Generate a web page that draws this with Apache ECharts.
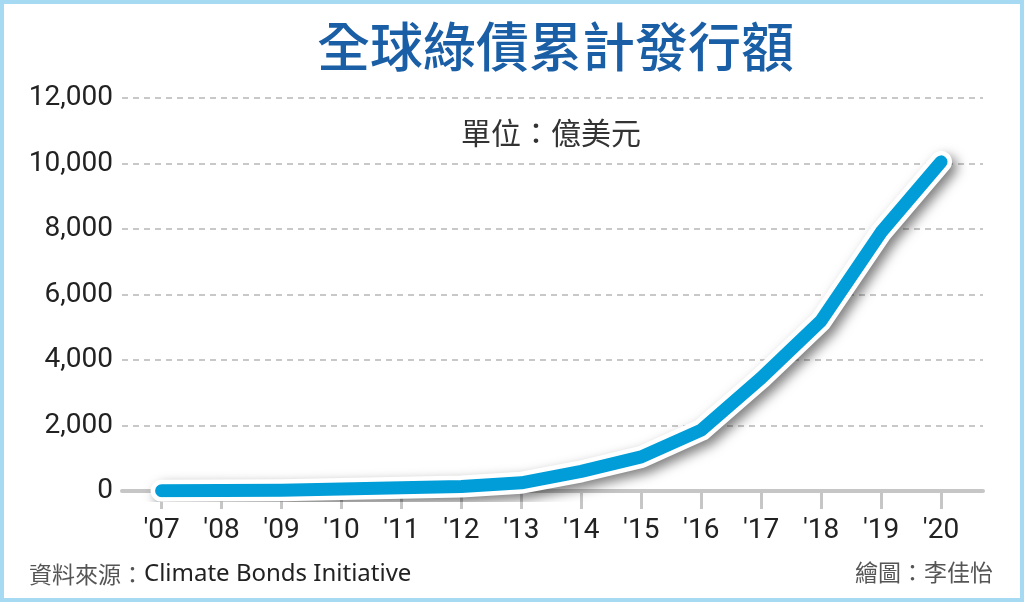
<!DOCTYPE html>
<html lang="zh-Hant">
<head>
    <meta charset="UTF-8">
    <title>全球綠債累計發行額</title>
    <script src="https://cdn.jsdelivr.net/npm/echarts@6/dist/echarts.min.js"></script>
    <style>
        html, body { margin: 0; padding: 0; background: #fff; }
        #frame { position: absolute; left: 0; top: 0; width: 1024px; height: 602px;
                 box-sizing: border-box; border: 4px solid #a6daf3; }
        #main { position: absolute; left: 0; top: 0; width: 1024px; height: 602px; }
    </style>
</head>
<body>
<div id="frame"></div>
<div id="main"></div>
<script>
    // 年份標籤與累計發行額（億美元）
    var years = ["'07", "'08", "'09", "'10", "'11", "'12", "'13", "'14", "'15", "'16", "'17", "'18", "'19", "'20"];
    var totals = [8, 12, 20, 60, 100, 140, 250, 600, 1040, 1860, 3450, 5200, 7900, 10050];

    var idx = years.map(function (y, i) { return i; });
    var points = totals.map(function (v, i) { return [i, v]; });

    var myChart = echarts.init(document.getElementById('main'));
    var option = {
        backgroundColor: 'transparent',
        animation: false,
        title: [
            {
                text: '全球綠債累計發行額',
                left: 312, top: 15,
                textStyle: { color: '#1a5fa6', fontSize: 53, fontWeight: 500,
                    fontFamily: 'Noto Sans CJK TC' }
            },
            {
                text: '單位：億美元',
                left: 456, top: 113,
                textStyle: { color: '#333', fontSize: 30, fontWeight: 'normal',
                    fontFamily: 'Noto Sans CJK TC' }
            },
            {
                text: '{c|資料來源：}{l|Climate Bonds Initiative}',
                left: 24, top: 557,
                textStyle: {
                    fontWeight: 'normal',
                    rich: {
                        c: { color: '#555', fontSize: 23, fontWeight: 'normal', fontFamily: 'Noto Sans CJK TC' },
                        l: { color: '#222', fontSize: 24, fontWeight: 'normal', fontFamily: 'Noto Sans' }
                    }
                }
            },
            {
                text: '繪圖：李佳怡',
                left: 850, top: 556,
                textStyle: { color: '#555', fontSize: 23, fontWeight: 'normal',
                    fontFamily: 'Noto Sans CJK TC' }
            }
        ],
        grid: { left: 122, right: 41, top: 98, bottom: 111 },
        xAxis: {
            type: 'value',
            min: -0.66,
            max: 13.7,
            axisLine: { show: true, lineStyle: { color: '#c6c6c6', width: 4 } },
            axisTick: { show: true, customValues: idx, length: 18, lineStyle: { color: '#c6c6c6', width: 3 } },
            axisLabel: {
                customValues: idx,
                margin: 26,
                color: '#222',
                fontSize: 28,
                fontFamily: 'Roboto',
                formatter: function (v) { return years[Math.round(v)]; }
            },
            splitLine: { show: false }
        },
        yAxis: {
            type: 'value',
            min: 0,
            max: 12000,
            interval: 2000,
            axisLine: { show: false },
            axisTick: { show: false },
            axisLabel: {
                margin: 9,
                color: '#222',
                fontSize: 28,
                fontFamily: 'Roboto',
                formatter: function (v) { return v.toLocaleString('en-US'); }
            },
            splitLine: { lineStyle: { color: '#c8c8c8', width: 2, type: [6, 5] } }
        },
        series: [
            {
                // 白色外框與陰影
                type: 'line',
                data: points,
                symbol: 'none',
                silent: true,
                lineStyle: {
                    color: '#fff', width: 22, cap: 'round', join: 'round',
                    shadowColor: 'rgba(0,0,0,0.5)', shadowBlur: 12,
                    shadowOffsetX: 5, shadowOffsetY: 5
                },
                z: 2
            },
            {
                type: 'line',
                data: points,
                symbol: 'none',
                lineStyle: { color: '#009dd8', width: 13, cap: 'round', join: 'round' },
                z: 3
            }
        ]
    };
    myChart.setOption(option);
</script>
</body>
</html>
